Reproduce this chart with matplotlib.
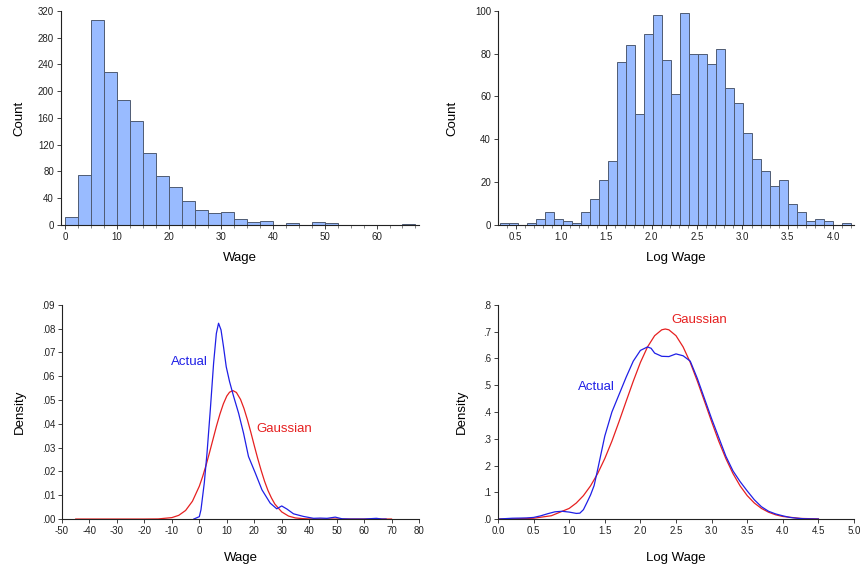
import numpy as np
import matplotlib
matplotlib.use("Agg")
import matplotlib.pyplot as plt
from matplotlib.ticker import MultipleLocator, FuncFormatter

plt.rcParams['font.family'] = ['Liberation Sans', 'DejaVu Sans']
plt.rcParams['axes.unicode_minus'] = False

# top-left histogram: wage, bins 2.5 wide from 0
wage_edge0 = 0.0
wage_binw = 2.5
wage_counts = [12, 75, 307, 229, 187, 155, 108, 73, 57, 36, 22, 18, 19, 9, 4, 6,
               0, 3, 0, 4, 3, 0, 0, 0, 0, 0, 1]

# top-right histogram: log wage, 39 bins from 0.331 to 4.202
lw_edge0 = 0.331
lw_edge1 = 4.202
lw_counts = [1, 1, 0, 1, 3, 6, 3, 2, 1, 6, 12, 21, 30, 76, 84, 52, 89, 98, 77, 61,
             99, 80, 80, 75, 82, 64, 57, 43, 31, 25, 18, 21, 10, 6, 2, 3, 2, 0, 1]

# bottom-left density curves (wage)
wage_act_x = [-2, 0, 0.6, 1.8, 2.8, 4.0, 5.2, 6.2, 7.0, 7.9, 8.8, 9.8, 11.0, 12.5,
              14.3, 16.1, 17.9, 20.4, 22.8, 25.8, 28.2, 30.0, 31.9, 34.3, 37.9,
              41.6, 44, 46.5, 49.5, 52, 55, 60, 64.5, 66.5, 68]
wage_act_y = [0, 0.001, 0.0039, 0.0151, 0.0277, 0.0459, 0.0655, 0.078, 0.0823,
              0.0795, 0.0725, 0.064, 0.0578, 0.0515, 0.0445, 0.0361, 0.0263,
              0.0193, 0.0123, 0.0067, 0.0043, 0.0055, 0.0042, 0.0022, 0.0011,
              0.0003, 0.0004, 0.0003, 0.0008, 0.0001, 0.0, 0.0, 0.0003, 0.0, 0.0]
wage_gau_x = [-45, -20, -15, -10, -7.5, -5, -2.5, 0, 1.25, 2.5, 3.75, 5, 6.25, 7.5,
              8.75, 10, 11, 12.2, 13.5, 15, 16.25, 17.5, 18.75, 20, 21.25, 22.5,
              23.75, 25, 26.25, 27.5, 30, 32.5, 35, 37.5, 40, 45, 70]
wage_gau_y = [0, 0, 0.00005, 0.0006, 0.00155, 0.0036, 0.0075, 0.0138, 0.018,
              0.0228, 0.0281, 0.0336, 0.0391, 0.0441, 0.0484, 0.0517, 0.0533,
              0.054, 0.0532, 0.0503, 0.0465, 0.0418, 0.0365, 0.0309, 0.0255,
              0.0205, 0.0159, 0.012, 0.0089, 0.0063, 0.003, 0.00124, 0.00046,
              0.00018, 0.00005, 0, 0]

# bottom-right density curves (log wage)
lw_act_x = [0.0, 0.2, 0.4, 0.5, 0.6, 0.7, 0.8, 0.9, 1.0, 1.1, 1.15, 1.2, 1.25, 1.3,
            1.35, 1.4, 1.5, 1.6, 1.7, 1.8, 1.9, 2.0, 2.1, 2.15, 2.2, 2.3, 2.4, 2.5,
            2.6, 2.7, 2.8, 2.9, 3.0, 3.1, 3.2, 3.3, 3.4, 3.5, 3.6, 3.7, 3.8, 3.9,
            4.0, 4.1, 4.2, 4.3, 4.5]
lw_act_y = [0.0, 0.003, 0.004, 0.006, 0.012, 0.020, 0.027, 0.029, 0.026, 0.021,
            0.022, 0.035, 0.062, 0.090, 0.125, 0.185, 0.31, 0.40, 0.465, 0.53,
            0.59, 0.63, 0.643, 0.638, 0.62, 0.608, 0.607, 0.617, 0.61, 0.59,
            0.525, 0.45, 0.375, 0.305, 0.235, 0.18, 0.14, 0.105, 0.072, 0.046,
            0.029, 0.019, 0.012, 0.006, 0.003, 0.001, 0.0]
lw_gau_x = [0.0, 0.25, 0.5, 0.75, 1.0, 1.1, 1.2, 1.3, 1.4, 1.5, 1.6, 1.7, 1.8, 1.9,
            2.0, 2.1, 2.2, 2.3, 2.35, 2.4, 2.5, 2.6, 2.7, 2.8, 2.9, 3.0, 3.1, 3.2,
            3.3, 3.4, 3.5, 3.6, 3.7, 3.8, 3.9, 4.0, 4.25, 4.5]
lw_gau_y = [0.0, 0.001, 0.003, 0.0124, 0.0397, 0.0599, 0.0875, 0.124, 0.170, 0.226,
            0.291, 0.364, 0.440, 0.515, 0.585, 0.643, 0.685, 0.707, 0.71, 0.707,
            0.685, 0.643, 0.585, 0.515, 0.440, 0.364, 0.291, 0.226, 0.170, 0.124,
            0.0875, 0.0599, 0.0397, 0.0255, 0.0158, 0.0095, 0.0023, 0.0005]

BAR = '#99bbff'
EDGE = '#4f5b73'
BLUE = '#1f1fe6'
RED = '#e62020'


def style(ax):
    for s in ['top', 'right']:
        ax.spines[s].set_visible(False)
    for s in ['left', 'bottom']:
        ax.spines[s].set_linewidth(0.8)
        ax.spines[s].set_color('#222222')
    ax.tick_params(which='major', direction='out', length=3, width=0.6,
                   labelsize=7, pad=2, colors='#222222')
    ax.tick_params(which='minor', direction='out', length=2, width=0.5,
                   colors='#555555')


fig = plt.figure(figsize=(8.65, 5.71), dpi=100)
ax1 = fig.add_axes([0.0705, 0.606, 0.414, 0.375])
ax2 = fig.add_axes([0.5757, 0.606, 0.4116, 0.375])
ax3 = fig.add_axes([0.0717, 0.091, 0.4127, 0.375])
ax4 = fig.add_axes([0.5757, 0.091, 0.4116, 0.375])

# Wage histogram
edges = wage_edge0 + wage_binw * np.arange(len(wage_counts) + 1)
ax1.bar(edges[:-1], wage_counts, width=np.diff(edges), align='edge',
        color=BAR, edgecolor=EDGE, linewidth=0.7)
ax1.set_xlim(-0.8, 68.2)
ax1.set_ylim(0, 320)
ax1.xaxis.set_major_locator(MultipleLocator(10))
ax1.xaxis.set_minor_locator(MultipleLocator(2.5))
ax1.yaxis.set_major_locator(MultipleLocator(40))
ax1.set_xlabel('Wage', fontsize=9.5)
ax1.set_ylabel('Count', fontsize=9.5)
ax1.xaxis.set_label_coords(0.5, -0.125)
ax1.yaxis.set_label_coords(-0.1, 0.5)
style(ax1)

# Log wage histogram
edges = np.linspace(lw_edge0, lw_edge1, len(lw_counts) + 1)
ax2.bar(edges[:-1], lw_counts, width=np.diff(edges), align='edge',
        color=BAR, edgecolor=EDGE, linewidth=0.7)
ax2.set_xlim(0.305, 4.23)
ax2.set_ylim(0, 100)
ax2.xaxis.set_major_locator(MultipleLocator(0.5))
ax2.xaxis.set_minor_locator(MultipleLocator(0.1))
ax2.xaxis.set_major_formatter(FuncFormatter(lambda v, p: f"{v:.1f}"))
ax2.yaxis.set_major_locator(MultipleLocator(20))
ax2.set_xlabel('Log Wage', fontsize=9.5)
ax2.set_ylabel('Count', fontsize=9.5)
ax2.xaxis.set_label_coords(0.5, -0.125)
ax2.yaxis.set_label_coords(-0.11, 0.5)
style(ax2)

# Wage density
ax3.plot(wage_gau_x, wage_gau_y, color=RED, lw=0.9)
ax3.plot(wage_act_x, wage_act_y, color=BLUE, lw=0.9)
ax3.set_xlim(-50, 80)
ax3.set_ylim(0, 0.09)
ax3.xaxis.set_major_locator(MultipleLocator(10))
ax3.yaxis.set_major_locator(MultipleLocator(0.01))
ax3.yaxis.set_major_formatter(FuncFormatter(lambda v, p: f"{v:.2f}".lstrip('0')))
ax3.set_xlabel('Wage', fontsize=9.5)
ax3.set_ylabel('Density', fontsize=9.5)
ax3.xaxis.set_label_coords(0.5, -0.155)
ax3.yaxis.set_label_coords(-0.1, 0.5)
ax3.text(-10.3, 0.0662, 'Actual', color=BLUE, fontsize=9.5, va='center')
ax3.text(20.7, 0.0378, 'Gaussian', color=RED, fontsize=9.5, va='center')
style(ax3)

# Log wage density
ax4.plot(lw_gau_x, lw_gau_y, color=RED, lw=0.9)
ax4.plot(lw_act_x, lw_act_y, color=BLUE, lw=0.9)
ax4.set_xlim(0, 5)
ax4.set_ylim(0, 0.8)
ax4.xaxis.set_major_locator(MultipleLocator(0.5))
ax4.xaxis.set_major_formatter(FuncFormatter(lambda v, p: f"{v:.1f}"))
ax4.yaxis.set_major_locator(MultipleLocator(0.1))
ax4.yaxis.set_major_formatter(FuncFormatter(lambda v, p: f"{v:.1f}".lstrip('0')))
ax4.set_xlabel('Log Wage', fontsize=9.5)
ax4.set_ylabel('Density', fontsize=9.5)
ax4.xaxis.set_label_coords(0.5, -0.155)
ax4.yaxis.set_label_coords(-0.085, 0.5)
ax4.text(1.117, 0.492, 'Actual', color=BLUE, fontsize=9.5, va='center')
ax4.text(2.43, 0.742, 'Gaussian', color=RED, fontsize=9.5, va='center')
style(ax4)

fig.savefig('out.png', dpi=100)
